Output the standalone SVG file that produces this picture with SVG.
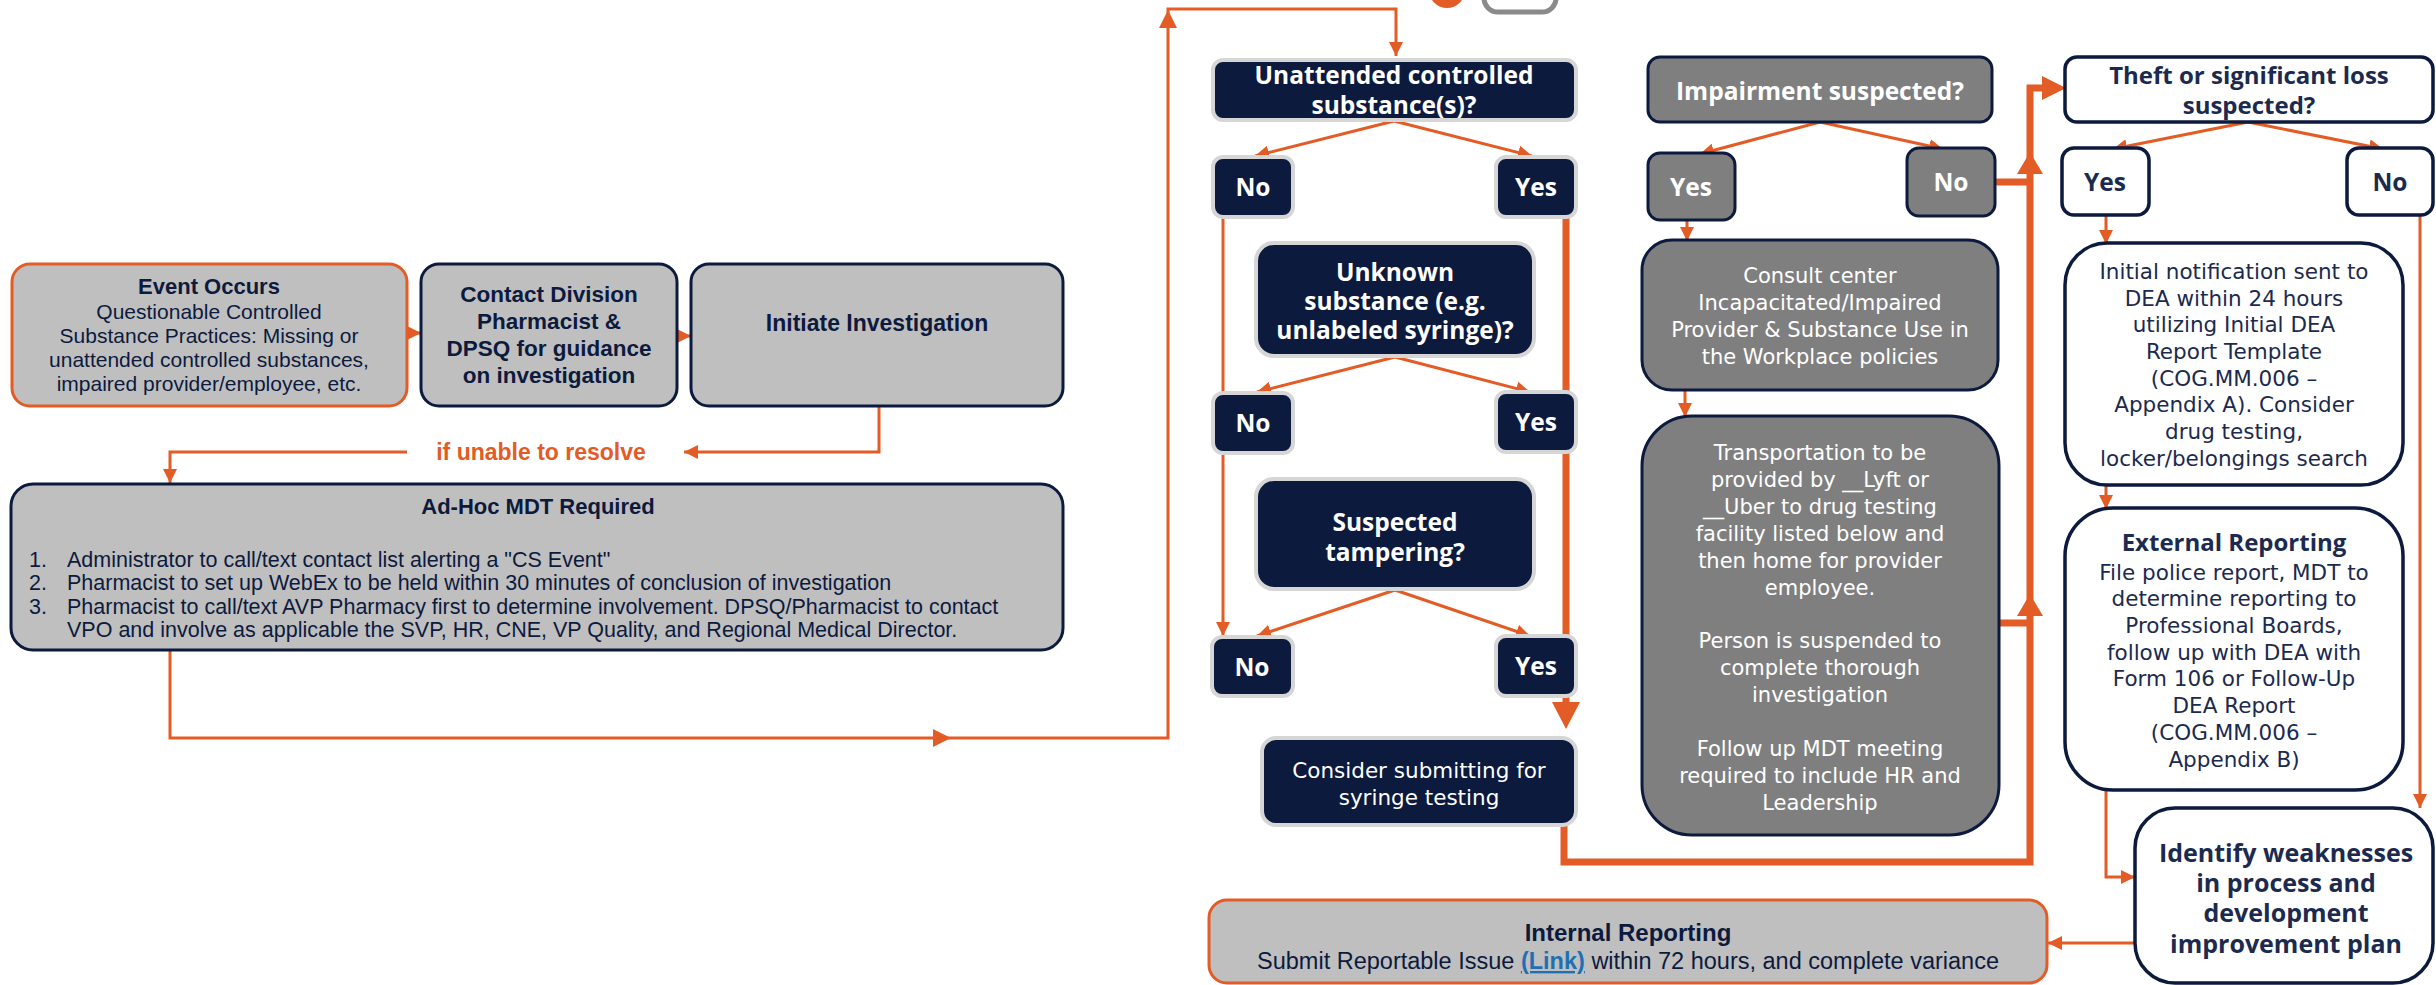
<svg xmlns="http://www.w3.org/2000/svg" width="2436" height="985" viewBox="0 0 2436 985">
<defs>
<style>
.bg{fill:#ffffff}
.lg{fill:#bfbfbf;stroke:#0c1a3e;stroke-width:3}
.lgo{fill:#bfbfbf;stroke:#e35b25;stroke-width:3}
.nv{fill:#0c1a3e;stroke:#d6d6d6;stroke-width:4}
.dg{fill:#7f7f7f;stroke:#0c1a3e;stroke-width:3}
.wh{fill:#ffffff;stroke:#0c1a3e;stroke-width:3.5}
.c{stroke:#e35b25;stroke-width:3;fill:none}
.ct{stroke:#e35b25;stroke-width:7;fill:none}
.ah{fill:#e35b25}
.tc{font-family:"Liberation Sans",Arial,sans-serif;fill:#0c1a3e;text-anchor:middle}
.tb{font-weight:bold}
.tw{font-family:"Open Sans",Lato,sans-serif;fill:#ffffff;text-anchor:middle}
.tn{font-family:"Open Sans",Lato,sans-serif;fill:#1b2a4e;text-anchor:middle}
.rw{font-family:"DejaVu Sans",Verdana,sans-serif;fill:#ffffff;text-anchor:middle}
.rn{font-family:"DejaVu Sans",Verdana,sans-serif;fill:#1b2a4e;text-anchor:middle}
</style>
<marker id="arr" viewBox="0 0 10 10" refX="10" refY="5" markerWidth="14" markerHeight="14" markerUnits="userSpaceOnUse" orient="auto"><path d="M0,0 L10,5 L0,10 z" fill="#e35b25"/></marker>
</defs>
<rect class="bg" x="0" y="0" width="2436" height="985"/>

<g id="top-decor">
<circle cx="1447" cy="-10" r="18" fill="#e35b25"/>
<rect x="1484" y="-30" width="72" height="42" rx="14" fill="none" stroke="#8a8a8a" stroke-width="5"/>
</g>

<g id="connectors">
<line class="c" x1="407" y1="333" x2="421" y2="333" marker-end="url(#arr)"/>
<line class="c" x1="677" y1="336" x2="691" y2="336" marker-end="url(#arr)"/>
<path class="c" d="M879,407 V452 H684" marker-end="url(#arr)"/>
<path class="c" d="M407,452 H170 V483" marker-end="url(#arr)"/>
<path class="c" d="M170,650 V738 H1168 V9 H1396 V56" marker-end="url(#arr)"/>
<polygon class="ah" points="933,729 933,747 951,738"/>
<polygon class="ah" points="1159,28 1177,28 1168,10"/>
<line class="c" x1="1394" y1="121" x2="1255" y2="156" marker-end="url(#arr)"/>
<line class="c" x1="1394" y1="121" x2="1532" y2="156" marker-end="url(#arr)"/>
<line class="c" x1="1223" y1="217" x2="1223" y2="393"/>
<line class="c" x1="1223" y1="455" x2="1223" y2="636" marker-end="url(#arr)"/>
<line class="c" x1="1395" y1="357" x2="1257" y2="392" marker-end="url(#arr)"/>
<line class="c" x1="1395" y1="357" x2="1530" y2="392" marker-end="url(#arr)"/>
<line class="c" x1="1395" y1="590" x2="1257" y2="636" marker-end="url(#arr)"/>
<line class="c" x1="1395" y1="590" x2="1530" y2="636" marker-end="url(#arr)"/>
<line class="ct" x1="1566" y1="217" x2="1566" y2="392"/>
<line class="ct" x1="1566" y1="452" x2="1566" y2="636"/>
<line class="ct" x1="1566" y1="696" x2="1566" y2="704"/>
<polygon class="ah" points="1552,702 1580,702 1566,729"/>
<path class="ct" d="M1564,826 V862 H2030 V88 H2044"/>
<polygon class="ah" points="2042,76 2042,100 2066,88"/>
<polygon class="ah" points="2017,616 2043,616 2030,594"/>
<polygon class="ah" points="2017,174 2043,174 2030,152"/>
<line class="ct" x1="1999" y1="623" x2="2030" y2="623"/>
<line class="ct" x1="1995" y1="182" x2="2030" y2="182"/>
<line class="c" x1="1820" y1="122" x2="1700" y2="154" marker-end="url(#arr)"/>
<line class="c" x1="1820" y1="122" x2="1943" y2="149" marker-end="url(#arr)"/>
<line class="c" x1="1687" y1="220" x2="1687" y2="241" marker-end="url(#arr)"/>
<line class="c" x1="1685" y1="390" x2="1685" y2="417" marker-end="url(#arr)"/>
<line class="c" x1="2248" y1="122" x2="2113" y2="149" marker-end="url(#arr)"/>
<line class="c" x1="2248" y1="122" x2="2383" y2="149" marker-end="url(#arr)"/>
<line class="c" x1="2106" y1="215" x2="2106" y2="244" marker-end="url(#arr)"/>
<line class="c" x1="2106" y1="485" x2="2106" y2="509" marker-end="url(#arr)"/>
<path class="c" d="M2106,790 V877 H2135" marker-end="url(#arr)"/>
<line class="c" x1="2420" y1="215" x2="2420" y2="808" marker-end="url(#arr)"/>
<line class="c" x1="2135" y1="943" x2="2048" y2="943" marker-end="url(#arr)"/>
</g>

<g id="event-occurs">
<rect class="lgo" x="12" y="264" width="395" height="142" rx="18"/>
<text class="tc tb" x="209" y="294" font-size="22">Event Occurs</text>
<text class="tc" x="209" y="319" font-size="21">Questionable Controlled</text>
<text class="tc" x="209" y="343" font-size="21">Substance Practices: Missing or</text>
<text class="tc" x="209" y="367" font-size="21">unattended controlled substances,</text>
<text class="tc" x="209" y="391" font-size="21">impaired provider/employee, etc.</text>
</g>

<g id="contact-division">
<rect class="lg" x="421" y="264" width="256" height="142" rx="18"/>
<text class="tc tb" x="549" y="302" font-size="22.5">Contact Division</text>
<text class="tc tb" x="549" y="329" font-size="22.5">Pharmacist &amp;</text>
<text class="tc tb" x="549" y="356" font-size="22.5">DPSQ for guidance</text>
<text class="tc tb" x="549" y="383" font-size="22.5">on investigation</text>
</g>

<g id="initiate-investigation">
<rect class="lg" x="691" y="264" width="372" height="142" rx="18"/>
<text class="tc tb" x="877" y="331" font-size="23">Initiate Investigation</text>
</g>

<g id="label-unable">
<text class="tc tb" x="541" y="460" font-size="23" style="fill:#e35b25">if unable to resolve</text>
</g>

<g id="adhoc-mdt">
<rect class="lg" x="11" y="484" width="1052" height="166" rx="22"/>
<text class="tc tb" x="538" y="514" font-size="22">Ad-Hoc MDT Required</text>
<g font-family="Liberation Sans, Arial, sans-serif" font-size="21.5" fill="#0c1a3e">
<text x="29" y="567">1.</text><text x="67" y="567">Administrator to call/text contact list alerting a "CS Event"</text>
<text x="29" y="590">2.</text><text x="67" y="590">Pharmacist to set up WebEx to be held within 30 minutes of conclusion of investigation</text>
<text x="29" y="614">3.</text><text x="67" y="614">Pharmacist to call/text AVP Pharmacy first to determine involvement. DPSQ/Pharmacist to contact</text>
<text x="67" y="637">VPO and involve as applicable the SVP, HR, CNE, VP Quality, and Regional Medical Director.</text>
</g>
</g>

<g id="unattended">
<rect class="nv" x="1213" y="60" width="363" height="60" rx="10"/>
<text class="tw tb" x="1394" y="84" font-size="24.5">Unattended controlled</text>
<text class="tw tb" x="1394" y="114" font-size="24.5">substance(s)?</text>
</g>
<g id="no1"><rect class="nv" x="1213" y="157" width="80" height="60" rx="10"/><text class="tw tb" x="1253" y="196" font-size="24.5">No</text></g>
<g id="yes1"><rect class="nv" x="1496" y="157" width="80" height="60" rx="10"/><text class="tw tb" x="1536" y="196" font-size="24.5">Yes</text></g>

<g id="unknown">
<rect class="nv" x="1256" y="243" width="278" height="113" rx="18"/>
<text class="tw tb" x="1395" y="281" font-size="24.5">Unknown</text>
<text class="tw tb" x="1395" y="310" font-size="24.5">substance (e.g.</text>
<text class="tw tb" x="1395" y="339" font-size="24.5">unlabeled syringe)?</text>
</g>
<g id="no2"><rect class="nv" x="1213" y="393" width="80" height="60" rx="10"/><text class="tw tb" x="1253" y="432" font-size="24.5">No</text></g>
<g id="yes2"><rect class="nv" x="1496" y="392" width="80" height="60" rx="10"/><text class="tw tb" x="1536" y="431" font-size="24.5">Yes</text></g>

<g id="suspected">
<rect class="nv" x="1256" y="479" width="278" height="110" rx="18"/>
<text class="tw tb" x="1395" y="531" font-size="24.5">Suspected</text>
<text class="tw tb" x="1395" y="561" font-size="24.5">tampering?</text>
</g>
<g id="no3"><rect class="nv" x="1212" y="637" width="81" height="59" rx="10"/><text class="tw tb" x="1252" y="676" font-size="24.5">No</text></g>
<g id="yes3"><rect class="nv" x="1496" y="636" width="80" height="60" rx="10"/><text class="tw tb" x="1536" y="675" font-size="24.5">Yes</text></g>

<g id="consider">
<rect class="nv" x="1262" y="738" width="314" height="87" rx="14"/>
<text class="rw" x="1419" y="778" font-size="21.5">Consider submitting for</text>
<text class="rw" x="1419" y="805" font-size="21.5">syringe testing</text>
</g>

<g id="impairment">
<rect class="dg" x="1648" y="57" width="344" height="65" rx="12"/>
<text class="tw tb" x="1820" y="100" font-size="24.5">Impairment suspected?</text>
</g>
<g id="imp-yes"><rect class="dg" x="1648" y="153" width="87" height="67" rx="12"/><text class="tw tb" x="1691" y="196" font-size="24.5">Yes</text></g>
<g id="imp-no"><rect class="dg" x="1907" y="148" width="88" height="68" rx="12"/><text class="tw tb" x="1951" y="191" font-size="24.5">No</text></g>

<g id="consult">
<rect class="dg" x="1642" y="240" width="356" height="150" rx="30"/>
<text class="rw" x="1820" y="283" font-size="21">Consult center</text>
<text class="rw" x="1820" y="310" font-size="21">Incapacitated/Impaired</text>
<text class="rw" x="1820" y="337" font-size="21">Provider &amp; Substance Use in</text>
<text class="rw" x="1820" y="364" font-size="21">the Workplace policies</text>
</g>

<g id="transportation">
<rect class="dg" x="1642" y="416" width="357" height="419" rx="50"/>
<text class="rw" x="1820" y="460" font-size="21">Transportation to be</text>
<text class="rw" x="1820" y="487" font-size="21">provided by __Lyft or</text>
<text class="rw" x="1820" y="514" font-size="21">__Uber to drug testing</text>
<text class="rw" x="1820" y="541" font-size="21">facility listed below and</text>
<text class="rw" x="1820" y="568" font-size="21">then home for provider</text>
<text class="rw" x="1820" y="595" font-size="21">employee.</text>
<text class="rw" x="1820" y="648" font-size="21">Person is suspended to</text>
<text class="rw" x="1820" y="675" font-size="21">complete thorough</text>
<text class="rw" x="1820" y="702" font-size="21">investigation</text>
<text class="rw" x="1820" y="756" font-size="21">Follow up MDT meeting</text>
<text class="rw" x="1820" y="783" font-size="21">required to include HR and</text>
<text class="rw" x="1820" y="810" font-size="21">Leadership</text>
</g>

<g id="theft">
<rect class="wh" x="2065" y="57" width="368" height="65" rx="12"/>
<text class="tn tb" x="2249" y="84" font-size="24">Theft or significant loss</text>
<text class="tn tb" x="2249" y="114" font-size="24">suspected?</text>
</g>
<g id="theft-yes"><rect class="wh" x="2062" y="148" width="87" height="67" rx="12"/><text class="tn tb" x="2105" y="191" font-size="24.5">Yes</text></g>
<g id="theft-no"><rect class="wh" x="2347" y="148" width="86" height="67" rx="12"/><text class="tn tb" x="2390" y="191" font-size="24.5">No</text></g>

<g id="initial-notification">
<rect class="wh" x="2065" y="243" width="338" height="242" rx="42"/>
<text class="rn" x="2234" y="279" font-size="21.5">Initial notification sent to</text>
<text class="rn" x="2234" y="306" font-size="21.5">DEA within 24 hours</text>
<text class="rn" x="2234" y="332" font-size="21.5">utilizing Initial DEA</text>
<text class="rn" x="2234" y="359" font-size="21.5">Report Template</text>
<text class="rn" x="2234" y="386" font-size="21.5">(COG.MM.006 –</text>
<text class="rn" x="2234" y="412" font-size="21.5">Appendix A). Consider</text>
<text class="rn" x="2234" y="439" font-size="21.5">drug testing,</text>
<text class="rn" x="2234" y="466" font-size="21.5">locker/belongings search</text>
</g>

<g id="external-reporting">
<rect class="wh" x="2065" y="508" width="338" height="282" rx="48"/>
<text class="tn tb" x="2234" y="551" font-size="24">External Reporting</text>
<text class="rn" x="2234" y="580" font-size="21.5">File police report, MDT to</text>
<text class="rn" x="2234" y="606" font-size="21.5">determine reporting to</text>
<text class="rn" x="2234" y="633" font-size="21.5">Professional Boards,</text>
<text class="rn" x="2234" y="660" font-size="21.5">follow up with DEA with</text>
<text class="rn" x="2234" y="686" font-size="21.5">Form 106 or Follow-Up</text>
<text class="rn" x="2234" y="713" font-size="21.5">DEA Report</text>
<text class="rn" x="2234" y="740" font-size="21.5">(COG.MM.006 –</text>
<text class="rn" x="2234" y="767" font-size="21.5">Appendix B)</text>
</g>

<g id="identify-weaknesses">
<rect class="wh" x="2135" y="808" width="298" height="175" rx="40"/>
<text class="tn tb" x="2286" y="862" font-size="25">Identify weaknesses</text>
<text class="tn tb" x="2286" y="892" font-size="25">in process and</text>
<text class="tn tb" x="2286" y="922" font-size="25">development</text>
<text class="tn tb" x="2286" y="953" font-size="25">improvement plan</text>
</g>

<g id="internal-reporting">
<rect class="lgo" x="1209" y="900" width="838" height="83" rx="18"/>
<text class="tc tb" x="1628" y="941" font-size="24">Internal Reporting</text>
<text class="tc" x="1628" y="969" font-size="23.5">Submit Reportable Issue <tspan fill="#1f6fb4" font-weight="bold" text-decoration="underline">(Link)</tspan> within 72 hours, and complete variance</text>
</g>
</svg>
